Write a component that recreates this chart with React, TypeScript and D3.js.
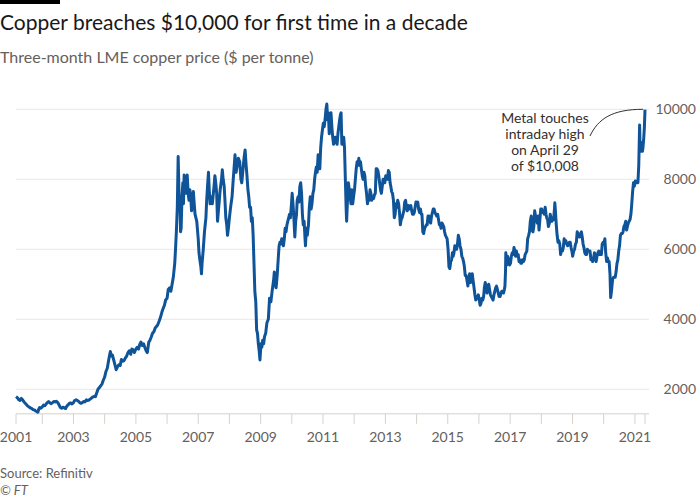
import React from "react";
import * as d3 from "d3";

const titleText = "Copper breaches $10,000 for first time in a decade";
const subtitleText = "Three-month LME copper price ($ per tonne)";
const sourceText = "Source: Refinitiv";
const creditText = "© FT";
const annotationLines = ["Metal touches", "intraday high", "on April 29", "of $10,008"];
const yTicks = [2000, 4000, 6000, 8000, 10000];
const xLabelYears = [2003, 2005, 2007, 2009, 2011, 2013, 2015, 2017, 2019, 2021];
const startDate = "2001-02-27";
const endDate = "2021-04-29";

const priceSeries: [string, number][] = [
  ["2001-02-27", 1790], ["2001-03-15", 1760], ["2001-04-01", 1700], ["2001-04-15", 1680], ["2001-05-01", 1740], ["2001-05-15", 1700],
  ["2001-06-01", 1640], ["2001-06-15", 1600], ["2001-07-01", 1560], ["2001-07-15", 1520], ["2001-08-01", 1490], ["2001-08-15", 1470],
  ["2001-09-01", 1450], ["2001-09-15", 1420], ["2001-10-01", 1410], ["2001-10-15", 1380], ["2001-11-01", 1360], ["2001-11-10", 1345],
  ["2001-11-20", 1430], ["2001-12-01", 1480], ["2001-12-15", 1460],
  ["2002-01-01", 1500], ["2002-01-15", 1550], ["2002-02-01", 1530], ["2002-02-15", 1580], ["2002-03-01", 1620], ["2002-03-15", 1650],
  ["2002-04-01", 1610], ["2002-04-15", 1590], ["2002-05-01", 1620], ["2002-05-15", 1650], ["2002-06-01", 1640], ["2002-06-15", 1660],
  ["2002-07-01", 1620], ["2002-07-15", 1560], ["2002-08-01", 1480], ["2002-08-15", 1460], ["2002-09-01", 1490], ["2002-09-15", 1470],
  ["2002-10-01", 1450], ["2002-10-15", 1520], ["2002-11-01", 1560], ["2002-11-15", 1600], ["2002-12-01", 1610], ["2002-12-15", 1580],
  ["2003-01-01", 1620], ["2003-01-15", 1680], ["2003-02-01", 1700], ["2003-02-15", 1680], ["2003-03-01", 1660], ["2003-03-15", 1620],
  ["2003-04-01", 1600], ["2003-04-15", 1620], ["2003-05-01", 1650], ["2003-05-15", 1640], ["2003-06-01", 1700], ["2003-06-15", 1680],
  ["2003-07-01", 1690], ["2003-07-15", 1720], ["2003-08-01", 1750], ["2003-08-15", 1780], ["2003-09-01", 1800], ["2003-09-15", 1790],
  ["2003-10-01", 1900], ["2003-10-15", 2000], ["2003-11-01", 2050], ["2003-11-15", 2100], ["2003-12-01", 2150], ["2003-12-15", 2250],
  ["2004-01-01", 2350], ["2004-01-15", 2500], ["2004-02-01", 2600], ["2004-02-15", 2800], ["2004-03-01", 3000], ["2004-03-08", 3080],
  ["2004-03-20", 2950], ["2004-04-01", 2980], ["2004-04-15", 2850], ["2004-05-01", 2700], ["2004-05-15", 2560], ["2004-06-01", 2650],
  ["2004-06-15", 2700], ["2004-07-01", 2680], ["2004-07-15", 2850], ["2004-08-01", 2800], ["2004-08-15", 2820], ["2004-09-01", 2900],
  ["2004-09-15", 2950], ["2004-10-01", 3050], ["2004-10-15", 3100], ["2004-11-01", 3000], ["2004-11-15", 3150], ["2004-12-01", 3130],
  ["2004-12-15", 3050],
  ["2005-01-01", 3150], ["2005-01-15", 3200], ["2005-02-01", 3150], ["2005-02-15", 3280], ["2005-03-01", 3350], ["2005-03-15", 3250],
  ["2005-04-01", 3300], ["2005-04-15", 3200], ["2005-05-01", 3100], ["2005-05-15", 3050], ["2005-06-01", 3350], ["2005-06-15", 3400],
  ["2005-07-01", 3500], ["2005-07-15", 3600], ["2005-08-01", 3650], ["2005-08-15", 3750], ["2005-09-01", 3800], ["2005-09-15", 3850],
  ["2005-10-01", 3950], ["2005-10-15", 4050], ["2005-11-01", 4200], ["2005-11-15", 4300], ["2005-12-01", 4400], ["2005-12-15", 4550],
  ["2006-01-01", 4600], ["2006-01-15", 4850], ["2006-02-01", 4900], ["2006-02-15", 4800], ["2006-03-01", 5000], ["2006-03-15", 5200],
  ["2006-04-01", 5600], ["2006-04-10", 6000], ["2006-04-20", 6500], ["2006-05-01", 7200], ["2006-05-11", 8650], ["2006-05-18", 7900],
  ["2006-05-25", 7100], ["2006-06-01", 7400], ["2006-06-08", 6500], ["2006-06-15", 6600], ["2006-06-25", 7500], ["2006-07-05", 7900],
  ["2006-07-12", 7300], ["2006-07-20", 8120], ["2006-07-28", 7600], ["2006-08-05", 7800], ["2006-08-15", 7600], ["2006-08-25", 8120],
  ["2006-09-05", 7600], ["2006-09-15", 7400], ["2006-09-25", 7700], ["2006-10-05", 7500], ["2006-10-15", 7100], ["2006-10-25", 7400],
  ["2006-11-05", 7650], ["2006-11-15", 7300], ["2006-11-25", 7000], ["2006-12-05", 6900], ["2006-12-15", 6800],
  ["2007-01-01", 6300], ["2007-01-10", 5900], ["2007-01-20", 5700], ["2007-02-01", 5500], ["2007-02-08", 5300], ["2007-02-15", 5600],
  ["2007-03-01", 6000], ["2007-03-15", 6500], ["2007-04-01", 6900], ["2007-04-10", 7400], ["2007-04-20", 7800], ["2007-05-01", 8200],
  ["2007-05-10", 7700], ["2007-05-20", 7300], ["2007-06-01", 7500], ["2007-06-15", 7300], ["2007-06-25", 7550], ["2007-07-05", 7800],
  ["2007-07-15", 8100], ["2007-07-25", 7900], ["2007-08-05", 7600], ["2007-08-15", 6800], ["2007-08-25", 7100], ["2007-09-05", 7400],
  ["2007-09-15", 7700], ["2007-10-01", 8000], ["2007-10-10", 8270], ["2007-10-20", 8000], ["2007-11-01", 7800], ["2007-11-10", 7400],
  ["2007-11-20", 6900], ["2007-12-01", 6700], ["2007-12-10", 6400], ["2007-12-20", 6600],
  ["2008-01-01", 6900], ["2008-01-15", 7200], ["2008-02-01", 7500], ["2008-02-15", 8000], ["2008-03-01", 8500], ["2008-03-07", 8700],
  ["2008-03-20", 8200], ["2008-04-01", 8400], ["2008-04-15", 8600], ["2008-05-01", 8500], ["2008-05-15", 8000], ["2008-05-25", 7900],
  ["2008-06-05", 8200], ["2008-06-20", 8600], ["2008-07-03", 8840], ["2008-07-15", 8400], ["2008-07-25", 8100], ["2008-08-05", 7700],
  ["2008-08-15", 7500], ["2008-08-25", 7200], ["2008-09-05", 7200], ["2008-09-15", 6800], ["2008-09-25", 6900], ["2008-10-05", 6400],
  ["2008-10-15", 5600], ["2008-10-25", 4800], ["2008-11-05", 4500], ["2008-11-15", 3700], ["2008-11-25", 3600], ["2008-12-05", 3300],
  ["2008-12-15", 3100], ["2008-12-24", 2840],
  ["2009-01-05", 3300], ["2009-01-15", 3200], ["2009-01-25", 3400], ["2009-02-05", 3300], ["2009-02-15", 3500], ["2009-03-01", 3600],
  ["2009-03-15", 3900], ["2009-04-01", 4000], ["2009-04-15", 4600], ["2009-05-01", 4500], ["2009-05-15", 4800], ["2009-06-01", 5100],
  ["2009-06-10", 5350], ["2009-06-20", 5000], ["2009-07-01", 4900], ["2009-07-15", 5300], ["2009-07-25", 5700], ["2009-08-05", 6100],
  ["2009-08-15", 6200], ["2009-08-25", 6150], ["2009-09-05", 6300], ["2009-09-15", 6200], ["2009-09-25", 6100], ["2009-10-05", 6300],
  ["2009-10-15", 6600], ["2009-10-25", 6500], ["2009-11-05", 6700], ["2009-11-15", 6800], ["2009-11-25", 6900], ["2009-12-05", 7000],
  ["2009-12-15", 6900], ["2009-12-25", 7200],
  ["2010-01-05", 7600], ["2010-01-15", 7300], ["2010-01-25", 6900], ["2010-02-05", 6350], ["2010-02-15", 6800], ["2010-02-25", 7000],
  ["2010-03-05", 7400], ["2010-03-15", 7500], ["2010-03-25", 7350], ["2010-04-05", 7800], ["2010-04-15", 7900], ["2010-04-25", 7600],
  ["2010-05-05", 7000], ["2010-05-15", 6700], ["2010-05-25", 6800], ["2010-06-05", 6300], ["2010-06-10", 6100], ["2010-06-20", 6600],
  ["2010-07-01", 6400], ["2010-07-15", 6700], ["2010-07-25", 7200], ["2010-08-05", 7500], ["2010-08-15", 7150], ["2010-08-25", 7300],
  ["2010-09-05", 7600], ["2010-09-15", 7700], ["2010-09-25", 8000], ["2010-10-05", 8200], ["2010-10-15", 8350], ["2010-10-25", 8200],
  ["2010-11-05", 8700], ["2010-11-15", 8400], ["2010-11-25", 8300], ["2010-12-05", 8900], ["2010-12-15", 9200], ["2010-12-25", 9400],
  ["2011-01-05", 9600], ["2011-01-15", 9500], ["2011-01-25", 9700], ["2011-02-05", 10000], ["2011-02-15", 10150], ["2011-02-25", 9700],
  ["2011-03-05", 9900], ["2011-03-15", 9300], ["2011-03-25", 9700], ["2011-04-05", 9900], ["2011-04-15", 9500], ["2011-04-25", 9200],
  ["2011-05-05", 9000], ["2011-05-15", 9100], ["2011-05-25", 9200], ["2011-06-05", 9150], ["2011-06-15", 9000], ["2011-06-25", 9300],
  ["2011-07-05", 9500], ["2011-07-15", 9700], ["2011-07-25", 9850], ["2011-08-01", 9900], ["2011-08-10", 9000], ["2011-08-20", 9000],
  ["2011-09-01", 9200], ["2011-09-10", 8900], ["2011-09-20", 8000], ["2011-09-30", 7100], ["2011-10-05", 6800], ["2011-10-15", 7400],
  ["2011-10-25", 7900], ["2011-11-05", 7700], ["2011-11-15", 7500], ["2011-11-25", 7300], ["2011-12-05", 7700], ["2011-12-15", 7300],
  ["2011-12-25", 7500],
  ["2012-01-05", 7700], ["2012-01-15", 8000], ["2012-01-25", 8300], ["2012-02-05", 8500], ["2012-02-15", 8400], ["2012-02-25", 8600],
  ["2012-03-05", 8400], ["2012-03-15", 8500], ["2012-03-25", 8300], ["2012-04-05", 8100], ["2012-04-15", 8000], ["2012-04-25", 8200],
  ["2012-05-05", 8100], ["2012-05-15", 7800], ["2012-05-25", 7600], ["2012-06-05", 7300], ["2012-06-15", 7500], ["2012-06-25", 7400],
  ["2012-07-05", 7700], ["2012-07-15", 7600], ["2012-07-25", 7400], ["2012-08-05", 7500], ["2012-08-15", 7450], ["2012-08-25", 7550],
  ["2012-09-05", 7600], ["2012-09-15", 8300], ["2012-09-25", 8300], ["2012-10-05", 8250], ["2012-10-15", 8100], ["2012-10-25", 7900],
  ["2012-11-05", 7700], ["2012-11-15", 7600], ["2012-11-25", 7800], ["2012-12-05", 8000], ["2012-12-15", 8000], ["2012-12-25", 7900],
  ["2013-01-05", 8100], ["2013-01-15", 8050], ["2013-01-25", 8000], ["2013-02-05", 8250], ["2013-02-15", 8200], ["2013-02-25", 7900],
  ["2013-03-05", 7800], ["2013-03-15", 7650], ["2013-03-25", 7600], ["2013-04-05", 7400], ["2013-04-15", 6900], ["2013-04-25", 7000],
  ["2013-05-05", 7300], ["2013-05-15", 7200], ["2013-05-25", 7400], ["2013-06-05", 7300], ["2013-06-15", 7050], ["2013-06-25", 6700],
  ["2013-07-05", 6850], ["2013-07-15", 6900], ["2013-07-25", 7000], ["2013-08-05", 7100], ["2013-08-15", 7350], ["2013-08-25", 7400],
  ["2013-09-05", 7200], ["2013-09-15", 7100], ["2013-09-25", 7250], ["2013-10-05", 7200], ["2013-10-15", 7150], ["2013-10-25", 7250],
  ["2013-11-05", 7100], ["2013-11-15", 7000], ["2013-11-25", 7000], ["2013-12-05", 7050], ["2013-12-15", 7200], ["2013-12-25", 7350],
  ["2014-01-05", 7300], ["2014-01-15", 7350], ["2014-01-25", 7150], ["2014-02-05", 7050], ["2014-02-15", 7150], ["2014-02-25", 7000],
  ["2014-03-05", 7000], ["2014-03-15", 6500], ["2014-03-25", 6450], ["2014-04-05", 6600], ["2014-04-15", 6650], ["2014-04-25", 6700],
  ["2014-05-05", 6700], ["2014-05-15", 6950], ["2014-05-25", 6950], ["2014-06-05", 6800], ["2014-06-15", 6750], ["2014-06-25", 6950],
  ["2014-07-05", 7050], ["2014-07-15", 7150], ["2014-07-25", 7150], ["2014-08-05", 7050], ["2014-08-15", 7000], ["2014-08-25", 6950],
  ["2014-09-05", 7000], ["2014-09-15", 6850], ["2014-09-25", 6700], ["2014-10-05", 6700], ["2014-10-15", 6600], ["2014-10-25", 6750],
  ["2014-11-05", 6700], ["2014-11-15", 6650], ["2014-11-25", 6500], ["2014-12-05", 6400], ["2014-12-15", 6350], ["2014-12-25", 6300],
  ["2015-01-05", 6000], ["2015-01-15", 5500], ["2015-01-25", 5450], ["2015-02-05", 5650], ["2015-02-15", 5700], ["2015-02-25", 5900],
  ["2015-03-05", 5800], ["2015-03-15", 5900], ["2015-03-25", 6100], ["2015-04-05", 6050], ["2015-04-15", 6000], ["2015-04-25", 6150],
  ["2015-05-05", 6400], ["2015-05-15", 6300], ["2015-05-25", 6100], ["2015-06-05", 6000], ["2015-06-15", 5800], ["2015-06-25", 5750],
  ["2015-07-05", 5650], ["2015-07-15", 5500], ["2015-07-25", 5250], ["2015-08-05", 5250], ["2015-08-15", 5100], ["2015-08-25", 4950],
  ["2015-09-05", 5150], ["2015-09-15", 5300], ["2015-09-25", 5050], ["2015-10-05", 5200], ["2015-10-15", 5300], ["2015-10-25", 5100],
  ["2015-11-05", 4900], ["2015-11-15", 4700], ["2015-11-25", 4550], ["2015-12-05", 4600], ["2015-12-15", 4650], ["2015-12-25", 4700],
  ["2016-01-05", 4550], ["2016-01-15", 4400], ["2016-01-25", 4450], ["2016-02-05", 4600], ["2016-02-15", 4550], ["2016-02-25", 4650],
  ["2016-03-05", 4900], ["2016-03-15", 5050], ["2016-03-25", 4950], ["2016-04-05", 4750], ["2016-04-15", 4850], ["2016-04-25", 5000],
  ["2016-05-05", 4850], ["2016-05-15", 4700], ["2016-05-25", 4650], ["2016-06-05", 4600], ["2016-06-15", 4550], ["2016-06-25", 4700],
  ["2016-07-05", 4800], ["2016-07-15", 4900], ["2016-07-25", 4950], ["2016-08-05", 4850], ["2016-08-15", 4750], ["2016-08-25", 4650],
  ["2016-09-05", 4650], ["2016-09-15", 4750], ["2016-09-25", 4800], ["2016-10-05", 4800], ["2016-10-15", 4750], ["2016-10-25", 4850],
  ["2016-11-01", 4950], ["2016-11-08", 5400], ["2016-11-11", 5900], ["2016-11-20", 5550], ["2016-12-01", 5800], ["2016-12-15", 5700],
  ["2016-12-25", 5550],
  ["2017-01-05", 5600], ["2017-01-15", 5800], ["2017-01-25", 5900], ["2017-02-05", 5850], ["2017-02-15", 6050], ["2017-02-25", 5950],
  ["2017-03-05", 5800], ["2017-03-15", 5950], ["2017-03-25", 5800], ["2017-04-05", 5850], ["2017-04-15", 5650], ["2017-04-25", 5700],
  ["2017-05-05", 5600], ["2017-05-15", 5600], ["2017-05-25", 5700], ["2017-06-05", 5650], ["2017-06-15", 5700], ["2017-06-25", 5850],
  ["2017-07-05", 5900], ["2017-07-15", 5950], ["2017-07-25", 6300], ["2017-08-05", 6400], ["2017-08-15", 6500], ["2017-08-25", 6800],
  ["2017-09-05", 6950], ["2017-09-15", 6550], ["2017-09-25", 6500], ["2017-10-05", 6650], ["2017-10-15", 7100], ["2017-10-25", 6950],
  ["2017-11-05", 6850], ["2017-11-15", 6750], ["2017-11-25", 6950], ["2017-12-05", 6550], ["2017-12-15", 6850], ["2017-12-25", 7150],
  ["2018-01-05", 7150], ["2018-01-15", 7050], ["2018-01-25", 7100], ["2018-02-05", 7000], ["2018-02-15", 7200], ["2018-02-25", 7000],
  ["2018-03-05", 6900], ["2018-03-15", 6850], ["2018-03-25", 6650], ["2018-04-05", 6750], ["2018-04-15", 7000], ["2018-04-25", 6900],
  ["2018-05-05", 6800], ["2018-05-15", 6850], ["2018-05-25", 6850], ["2018-06-05", 7200], ["2018-06-08", 7330], ["2018-06-15", 7100],
  ["2018-06-25", 6700], ["2018-07-05", 6400], ["2018-07-15", 6200], ["2018-07-25", 6250], ["2018-08-05", 6150], ["2018-08-15", 5850],
  ["2018-08-25", 6000], ["2018-09-05", 5950], ["2018-09-15", 6050], ["2018-09-25", 6300], ["2018-10-05", 6200], ["2018-10-15", 6250],
  ["2018-10-25", 6150], ["2018-11-05", 6100], ["2018-11-15", 6150], ["2018-11-25", 6200], ["2018-12-05", 6200], ["2018-12-15", 6050],
  ["2018-12-25", 5950],
  ["2019-01-03", 5800], ["2019-01-15", 5950], ["2019-01-25", 6000], ["2019-02-05", 6150], ["2019-02-15", 6200], ["2019-02-25", 6500],
  ["2019-03-05", 6450], ["2019-03-15", 6400], ["2019-03-25", 6350], ["2019-04-05", 6450], ["2019-04-15", 6500], ["2019-04-25", 6350],
  ["2019-05-05", 6150], ["2019-05-15", 6050], ["2019-05-25", 5900], ["2019-06-05", 5850], ["2019-06-15", 5850], ["2019-06-25", 6000],
  ["2019-07-05", 5950], ["2019-07-15", 5950], ["2019-07-25", 5950], ["2019-08-05", 5700], ["2019-08-15", 5750], ["2019-08-25", 5650],
  ["2019-09-05", 5750], ["2019-09-15", 5900], ["2019-09-25", 5750], ["2019-10-05", 5650], ["2019-10-15", 5800], ["2019-10-25", 5900],
  ["2019-11-05", 5950], ["2019-11-15", 5850], ["2019-11-25", 5900], ["2019-12-05", 5850], ["2019-12-15", 6150], ["2019-12-25", 6200],
  ["2020-01-05", 6150], ["2020-01-15", 6300], ["2020-01-25", 5900], ["2020-02-05", 5650], ["2020-02-15", 5750], ["2020-02-25", 5650],
  ["2020-03-05", 5650], ["2020-03-15", 5300], ["2020-03-23", 4620], ["2020-04-01", 4800], ["2020-04-15", 5150], ["2020-04-25", 5200],
  ["2020-05-05", 5200], ["2020-05-15", 5200], ["2020-05-25", 5350], ["2020-06-05", 5600], ["2020-06-15", 5700], ["2020-06-25", 5950],
  ["2020-07-05", 6100], ["2020-07-15", 6400], ["2020-07-25", 6450], ["2020-08-05", 6450], ["2020-08-15", 6500], ["2020-08-25", 6650],
  ["2020-09-05", 6700], ["2020-09-15", 6800], ["2020-09-25", 6550], ["2020-10-05", 6650], ["2020-10-15", 6750], ["2020-10-25", 6800],
  ["2020-11-05", 6850], ["2020-11-15", 7000], ["2020-11-25", 7300], ["2020-12-05", 7650], ["2020-12-15", 7900], ["2020-12-25", 7800],
  ["2021-01-05", 7950], ["2021-01-15", 7900], ["2021-01-25", 7950], ["2021-02-05", 7900], ["2021-02-15", 8400], ["2021-02-25", 9550],
  ["2021-03-01", 9050], ["2021-03-10", 8800], ["2021-03-20", 9050], ["2021-03-30", 8800], ["2021-04-05", 8900], ["2021-04-15", 9200],
  ["2021-04-22", 9500], ["2021-04-29", 9990],
];

const W = 700;
const H = 500;
const FONT = "Lato, 'Open Sans', sans-serif";

export default function App() {
  const parse = d3.timeParse("%Y-%m-%d");
  const data = priceSeries.map(([d, v]) => ({ date: parse(d) as Date, value: v }));
  const x = d3.scaleTime().domain([parse(startDate) as Date, parse(endDate) as Date]).range([16, 645]);
  const y = d3.scaleLinear().domain([1300, 10300]).range([413.8, 98.8]);
  const line = d3
    .line<{ date: Date; value: number }>()
    .x((d) => x(d.date))
    .y((d) => y(d.value));

  const axisY = y(1300);
  const yearTicks = d3.range(2002, 2022).map((yr) => new Date(yr, 0, 1));
  const allTicks = [x.domain()[0], ...yearTicks, x.domain()[1]];

  const last = data[data.length - 1];
  const lx = x(last.date);
  const ly = y(10000);

  return (
    <svg
      width={W}
      height={H}
      style={{ position: "absolute", left: 0, top: 0, background: "#fff" }}
      fontFamily={FONT}
    >
      <rect x={0} y={0} width={60} height={4} fill="#000" />
      <text x={0} y={30} fontSize={21} fill="#1a1817">{titleText}</text>
      <text x={0} y={63} fontSize={16} fill="#66605c">{subtitleText}</text>

      {yTicks.map((t) => (
        <g key={t}>
          <line x1={16} x2={649} y1={y(t)} y2={y(t)} stroke="#ede6e0" strokeWidth={1} />
          <text x={696} y={y(t)} dy="0.35em" textAnchor="end" fontSize={14} fill="#66605c">
            {t}
          </text>
        </g>
      ))}

      <line x1={16} x2={649} y1={axisY} y2={axisY} stroke="#d8d0c9" strokeWidth={1} />
      {allTicks.map((t, i) => (
        <line key={i} x1={x(t)} x2={x(t)} y1={axisY} y2={axisY + 10} stroke="#d8d0c9" strokeWidth={1} />
      ))}
      <text x={x(x.domain()[0])} y={442} textAnchor="middle" fontSize={14} fill="#66605c">2001</text>
      {xLabelYears.map((yr) => (
        <text key={yr} x={x(new Date(yr, 0, 1))} y={442} textAnchor="middle" fontSize={14} fill="#66605c">
          {yr}
        </text>
      ))}

      <path d={line(data) ?? ""} fill="none" stroke="#0f5499" strokeWidth={3} strokeLinejoin="round" />

      <path
        d={`M${590},${136} C${598},${119} ${612},${ly} ${lx - 2},${ly}`}
        fill="none"
        stroke="#33302e"
        strokeWidth={1}
      />
      {annotationLines.map((s, i) => (
        <text key={i} x={545} y={123 + i * 16} textAnchor="middle" fontSize={14} fill="#33302e">
          {s}
        </text>
      ))}

      <text x={0} y={478} fontSize={13} fill="#66605c">{sourceText}</text>
      <text x={0} y={495} fontSize={13} fontStyle="italic" fill="#66605c">{creditText}</text>
    </svg>
  );
}
